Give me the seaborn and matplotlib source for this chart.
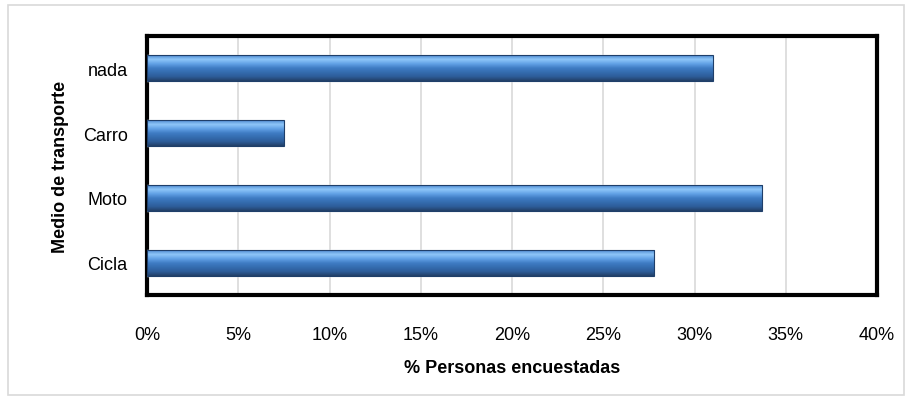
import matplotlib
matplotlib.use("Agg")
import matplotlib.pyplot as plt
import numpy as np
import pandas as pd
import seaborn as sns
from matplotlib.patches import Rectangle
from matplotlib.colors import LinearSegmentedColormap

categories = ["nada", "Carro", "Moto", "Cicla"]
values = [31.0, 7.5, 33.7, 27.8]
xticks = [0, 5, 10, 15, 20, 25, 30, 35, 40]

sns.set_theme(style="white")
plt.rcParams["font.family"] = ["Liberation Sans Narrow", "Liberation Sans", "DejaVu Sans"]
plt.rcParams["text.color"] = "black"
plt.rcParams["axes.labelcolor"] = "black"
plt.rcParams["xtick.color"] = "black"
plt.rcParams["ytick.color"] = "black"

df = pd.DataFrame({"cat": categories, "val": values})

fig = plt.figure(figsize=(9.11, 4.02), dpi=100)
ax = fig.add_axes([147/911, 1 - 296/402, (877-147)/911, (296-37)/402])

sns.barplot(data=df, x="val", y="cat", order=categories, color="#3a74bd",
            width=0.4, ax=ax, zorder=3)

# colours listed from visual top of bar to bottom
cmap = LinearSegmentedColormap.from_list(
    "bev", ["#4b88d0", "#8ec6f8", "#62a2e6", "#3f7cc4", "#346caf", "#2d5c98", "#223f66"])
grad = np.linspace(0, 1, 256).reshape(-1, 1)
for p in list(ax.patches):
    x0, y0 = p.get_x(), p.get_y()
    w, h = p.get_width(), p.get_height()
    im = ax.imshow(grad, cmap=cmap, aspect="auto", origin="upper",
                   extent=[x0, x0 + w, y0 + h, y0], zorder=4)
    im.set_clip_path(p)
    ax.add_patch(Rectangle((x0, y0), w, h, fill=False, edgecolor="#1f3f6a",
                           linewidth=0.8, zorder=5))

ax.set_xlim(0, 40)
ax.set_ylim(3.5, -0.5)
ax.set_xticks(xticks)
ax.set_xticklabels([f"{t}%" for t in xticks], fontsize=13)
ax.tick_params(axis="y", labelsize=13, length=0, pad=14)
ax.tick_params(axis="x", length=0, pad=22)
ax.grid(axis="x", color="#d9d9d9", linewidth=1.2, zorder=0)
ax.set_axisbelow(True)
for s in ax.spines.values():
    s.set_visible(True)
    s.set_color("black")
    s.set_linewidth(3)

ax.set_xlabel("% Personas encuestadas", fontsize=13, fontweight="bold", labelpad=12)
ax.set_ylabel("Medio de transporte", fontsize=13, fontweight="bold",
              family=["Liberation Sans", "DejaVu Sans"], labelpad=10)

fig.patches.append(Rectangle((8/911, 6/402), (904-8)/911, (396-6)/402,
                             transform=fig.transFigure, fill=False,
                             edgecolor="#d9d9d9", linewidth=1.2))

fig.savefig("out.png", dpi=100)
